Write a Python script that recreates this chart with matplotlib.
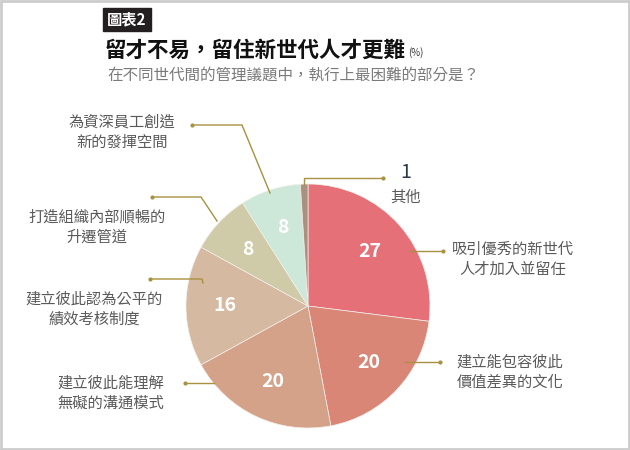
import matplotlib
matplotlib.use('Agg')
import matplotlib.pyplot as plt
from matplotlib.patches import Rectangle

plt.rcParams['font.family'] = ['Noto Sans CJK TC', 'DejaVu Sans']

# data (%), clockwise from 12 o'clock
labels = ['吸引優秀的新世代\n人才加入並留任',
          '建立能包容彼此\n價值差異的文化',
          '建立彼此能理解\n無礙的溝通模式',
          '建立彼此認為公平的\n績效考核制度',
          '打造組織內部順暢的\n升遷管道',
          '為資深員工創造\n新的發揮空間',
          '其他']
values = [27, 20, 20, 16, 8, 8, 1]
colors = ['#E57077', '#D98676', '#D4A189', '#D5B9A0', '#CFCBA8', '#CDE7D9', '#A8917F']

W, H = 630, 450
fig = plt.figure(figsize=(W / 100, H / 100), dpi=100)
ax = fig.add_axes([0, 0, 1, 1])

def fy(y):
    # pixel y (from top) -> data y
    return H - y

cx, cy, r = 308, 306, 122
wedges, texts, autotexts = ax.pie(
    values, colors=colors, startangle=90, counterclock=False,
    center=(cx, fy(cy)), radius=r, frame=True,
    autopct=lambda p: '' if p < 2 else f'{p:.0f}', pctdistance=0.68,
    wedgeprops=dict(linewidth=0.5, edgecolor='#f4eeea'),
    textprops=dict(color='white', fontsize=14, fontweight='bold'))
ax.set_xlim(0, W)
ax.set_ylim(0, H)
ax.set_aspect('equal')
ax.axis('off')

# border
ax.add_patch(Rectangle((1, 1), W - 2, H - 2, fill=False, edgecolor='#cccccc', lw=2))

# header
ax.add_patch(Rectangle((103, fy(31)), 48, 23, color='#231f20'))
ax.text(127, fy(19.5), '圖表2', color='white', fontsize=11, fontweight='bold',
        ha='center', va='center')
ax.text(105, fy(50), '留才不易，留住新世代人才更難', fontsize=15.5, fontweight='bold',
        color='#111111', va='center')
ax.text(408, fy(53), '(%)', fontsize=7, color='#333333', va='center')
ax.text(107, fy(75), '在不同世代間的管理議題中，執行上最困難的部分是？', fontsize=11.2,
        color='#7a7a7a', va='center')

line_c = '#A8913F'
lab_c = '#5a5a5a'
fs = 11

def leader(pts):
    xs = [p[0] for p in pts]
    ys = [fy(p[1]) for p in pts]
    ax.plot(xs, ys, color=line_c, lw=1)
    ax.plot(xs[0], ys[0], 'o', color=line_c, ms=2)

def label(x, y, s):
    ax.text(x, fy(y), s, fontsize=fs, color=lab_c, ha='center', va='center',
            linespacing=1.25)

# left side labels
label(122, 132, labels[5])
leader([(192, 125), (242, 125), (270, 193)])

label(97, 227, labels[4])
leader([(152, 197), (201, 197), (217, 221)])

label(94, 309, labels[3])
leader([(150, 279), (202, 279), (203, 283)])

label(111, 393, labels[2])
leader([(185, 383), (214, 383)])

# right side labels
label(513, 259, labels[0])
leader([(443, 251), (410, 251)])

label(510, 372, labels[1])
leader([(440, 362), (405, 362)])

# other
ax.text(406, fy(173), str(values[6]), fontsize=14, color='#2b3a4a', ha='center',
        va='center')
ax.text(406, fy(197), labels[6], fontsize=fs, color=lab_c, ha='center', va='center')
leader([(383, 178), (304, 178), (304, 184)])

fig.savefig('out.png', dpi=100)
